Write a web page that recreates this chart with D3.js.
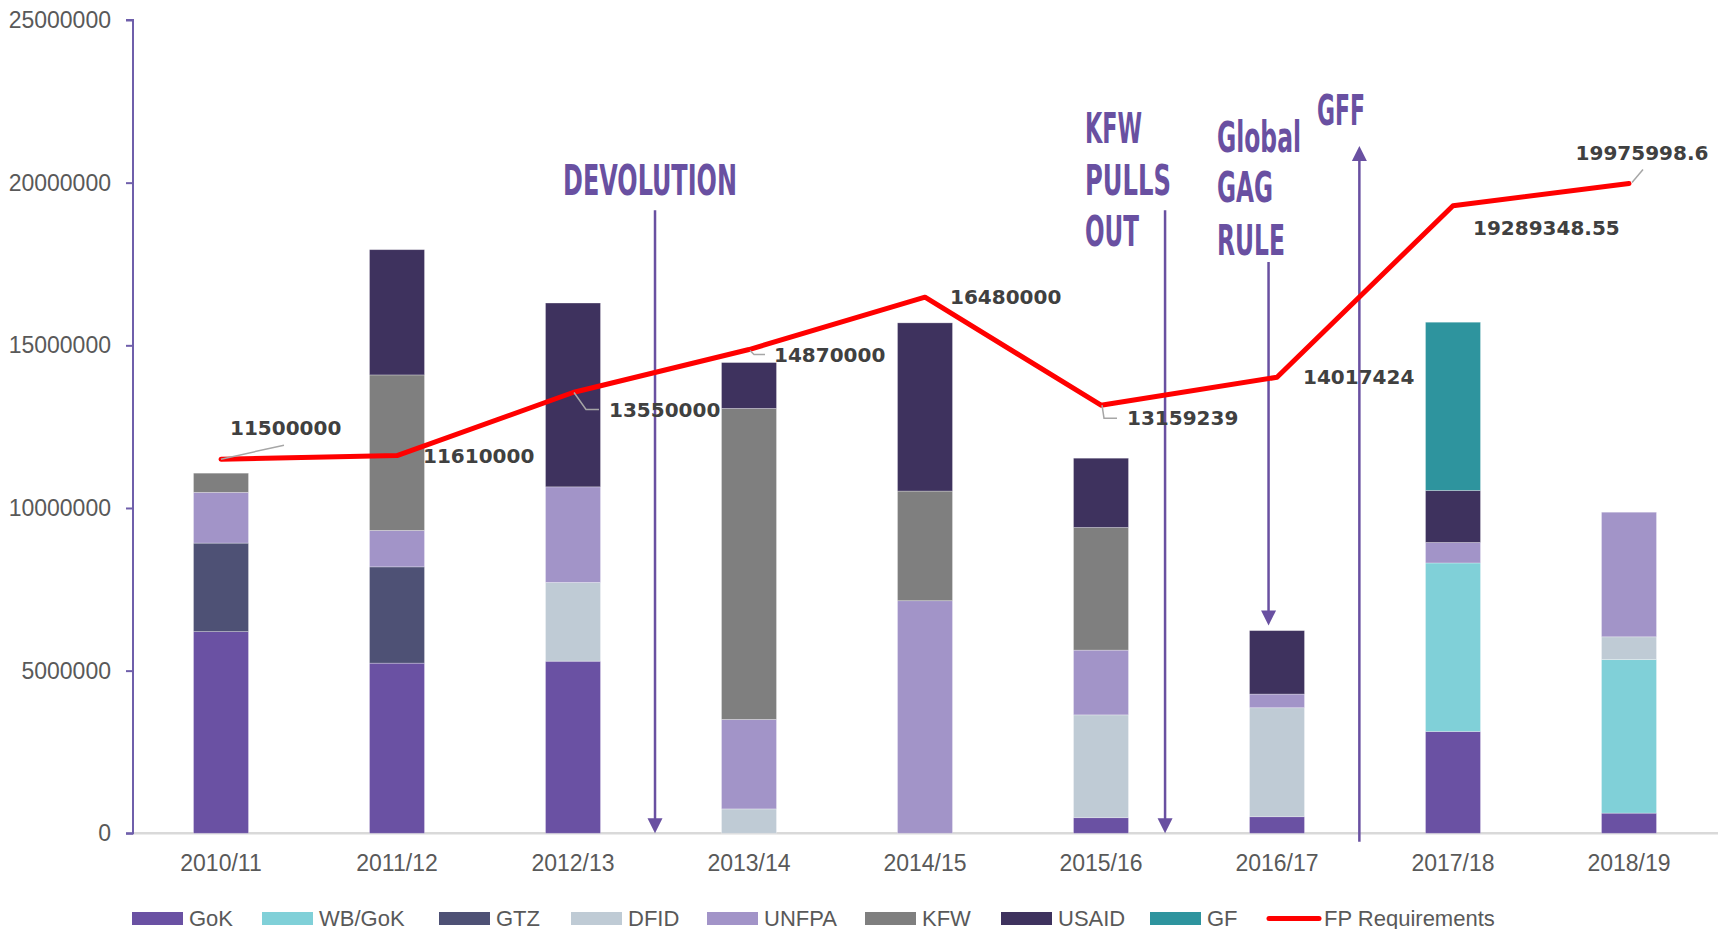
<!DOCTYPE html>
<html lang="en">
<head>
  <meta charset="UTF-8">
  <title>FP funding by source</title>
  <script src="https://cdn.jsdelivr.net/npm/d3@7"></script>
  <style>
    body { margin: 0; background: #fff; }
    svg { display: block; }
  </style>
</head>
<body>
<svg></svg>
<script>
  // data
  const years = ['2010/11', '2011/12', '2012/13', '2013/14', '2014/15', '2015/16', '2016/17', '2017/18', '2018/19']
  const gok   = [6200000, 5230000, 5290000, 0, 0, 480000, 510000, 3130000, 620000]
  const wbGok = [0, 0, 0, 0, 0, 0, 0, 5180000, 4720000]
  const gtz   = [2720000, 2960000, 0, 0, 0, 0, 0, 0, 0]
  const dfid  = [0, 0, 2420000, 750000, 0, 3160000, 3350000, 0, 700000]
  const unfpa = [1560000, 1120000, 2940000, 2750000, 7150000, 1990000, 420000, 630000, 3830000]
  const kfw   = [590000, 4780000, 0, 9560000, 3370000, 3770000, 0, 0, 0]
  const usaid = [0, 3850000, 5650000, 1410000, 5170000, 2130000, 1950000, 1600000, 0]
  const gf    = [0, 0, 0, 0, 0, 0, 0, 5170000, 0]
  const fpRequirements = [11500000, 11610000, 13550000, 14870000, 16480000, 13159239, 14017424, 19289348.55, 19975998.6]
  const yTicks = [0, 5000000, 10000000, 15000000, 20000000, 25000000]

  const seriesNames = ['GoK', 'WB/GoK', 'GTZ', 'DFID', 'UNFPA', 'KFW', 'USAID', 'GF']
  const seriesValues = [gok, wbGok, gtz, dfid, unfpa, kfw, usaid, gf]
  const colors = ['#6a51a3', '#80d0d8', '#4e5175', '#bfcbd5', '#a294c8', '#7f7f7f', '#3e325e', '#2e949e']

  const width = 1727, height = 929
  const mLeft = 133, mRight = 1717, mTop = 20, mBottom = 833.3

  const svg = d3.select('svg')
      .attr('width', width)
      .attr('height', height)
      .attr('viewBox', [0, 0, width, height])

  const table = years.map((yr, i) => {
    const row = {year: yr}
    seriesNames.forEach((s, k) => row[s] = seriesValues[k][i])
    return row
  })

  const x = d3.scaleBand()
      .domain(years)
      .range([mLeft, mRight])
      .paddingInner(0.6875)
      .paddingOuter(0.34375)
  const cx = d => x(d) + x.bandwidth() / 2

  const y = d3.scaleLinear()
      .domain([0, 25000000])
      .range([mBottom, mTop])

  const color = d3.scaleOrdinal().domain(seriesNames).range(colors)

  // x baseline
  svg.append('line')
      .attr('x1', mLeft).attr('x2', mRight + 1)
      .attr('y1', mBottom).attr('y2', mBottom)
      .attr('stroke', '#d9d9d9')
      .attr('stroke-width', 2.5)

  // stacked bars
  const stacked = d3.stack().keys(seriesNames)(table)
  svg.append('g')
      .selectAll('g')
      .data(stacked)
      .join('g')
      .attr('fill', d => color(d.key))
      .selectAll('rect')
      .data(d => d.filter(p => p[1] - p[0] > 0))
      .join('rect')
      .attr('x', d => x(d.data.year))
      .attr('width', x.bandwidth())
      .attr('y', d => y(d[1]))
      .attr('height', d => y(d[0]) - y(d[1]))
      .attr('stroke', '#ffffff')
      .attr('stroke-opacity', 0.35)
      .attr('stroke-width', 0.8)

  // y axis
  const yAxis = svg.append('g')
      .attr('transform', `translate(${mLeft},0)`)
      .call(d3.axisLeft(y).tickValues(yTicks).tickFormat(d3.format('d')).tickSize(7).tickPadding(15))
  yAxis.select('.domain').attr('stroke', '#6f5fab').attr('stroke-width', 2).attr('d', `M-7,${mTop}H0V${mBottom}H-7`)
  yAxis.selectAll('.tick line').attr('stroke', '#6f5fab').attr('stroke-width', 2)
  yAxis.selectAll('.tick text')
      .attr('fill', '#595959')
      .style('font', '23px "Liberation Sans", Arial, sans-serif')

  // x labels
  svg.append('g')
      .selectAll('text')
      .data(years)
      .join('text')
      .attr('x', d => cx(d))
      .attr('y', 871)
      .attr('text-anchor', 'middle')
      .attr('fill', '#595959')
      .style('font', '23px "Liberation Sans", Arial, sans-serif')
      .text(d => d)

  // annotations: arrows
  const purple = '#6950a1'
  const step = x.step()
  const arrows = [
    {year: '2012/13', off: 0.466, from: 19150000, to: 0},
    {year: '2015/16', off: 0.364, from: 19150000, to: 0},
    {year: '2016/17', off: -0.048, from: 17560000, to: 6390000},
    {year: '2016/17', off: 0.468, from: -260000, to: 21130000}
  ]
  const ag = svg.append('g')
  arrows.forEach(a => {
    const ax = cx(a.year) + a.off * step
    const y1 = y(a.from), y2 = y(a.to)
    const dir = y2 > y1 ? 1 : -1
    ag.append('line')
        .attr('x1', ax).attr('x2', ax)
        .attr('y1', y1).attr('y2', y2 - dir * 10)
        .attr('stroke', purple)
        .attr('stroke-width', 2.5)
    ag.append('path')
        .attr('d', `M${ax},${y2}L${ax - 7.5},${y2 - dir * 15}L${ax + 7.5},${y2 - dir * 15}Z`)
        .attr('fill', purple)
  })

  // annotations: text, squeezed horizontally to the width seen in the picture
  const notes = [
    {t: 'DEVOLUTION', x: 563, y: 195, w: 174},
    {t: 'KFW', x: 1085, y: 143, w: 57},
    {t: 'PULLS', x: 1085, y: 195, w: 86},
    {t: 'OUT', x: 1085, y: 246, w: 54},
    {t: 'Global', x: 1217, y: 152, w: 84},
    {t: 'GAG', x: 1217, y: 202, w: 56},
    {t: 'RULE', x: 1217, y: 255, w: 68},
    {t: 'GFF', x: 1317, y: 125, w: 48}
  ]
  svg.append('g')
      .selectAll('text')
      .data(notes)
      .join('text')
      .attr('x', 0)
      .attr('y', 0)
      .attr('fill', purple)
      .style('font', 'bold 43px "Liberation Sans Narrow", "DejaVu Sans Condensed", sans-serif')
      .text(d => d.t)
      .attr('transform', function(d) {
        const sx = d.w / this.getComputedTextLength()
        return `translate(${d.x},${d.y}) scale(${sx},1)`
      })

  // FP requirements line
  const line = d3.line()
      .x((d, i) => cx(years[i]))
      .y(d => y(d))
  svg.append('path')
      .datum(fpRequirements)
      .attr('fill', 'none')
      .attr('stroke', '#ff0000')
      .attr('stroke-width', 5)
      .attr('stroke-linejoin', 'round')
      .attr('stroke-linecap', 'round')
      .attr('d', line)

  // data labels (offsets from the point, leader line points)
  const labelPos = [
    {dx: 9, dy: -31, leader: [[0, 0], [63, -14]]},
    {dx: 26, dy: 0},
    {dx: 36, dy: 17, leader: [[1, 0], [13, 17], [26, 17]]},
    {dx: 25, dy: 5, leader: [[1, 1], [5, 5], [16, 5]]},
    {dx: 25, dy: 0},
    {dx: 26, dy: 13, leader: [[1, 0], [3, 13], [16, 13]]},
    {dx: 26, dy: 0},
    {dx: 20, dy: 22},
    {dx: 13, dy: -31, anchor: 'middle', leader: [[3, -1], [14, -14]]}
  ]
  const lg = svg.append('g')
  fpRequirements.forEach((v, i) => {
    const px = cx(years[i]), py = y(v)
    const p = labelPos[i]
    if (p.leader) {
      lg.append('path')
          .attr('d', d3.line()(p.leader.map(q => [px + q[0], py + q[1]])))
          .attr('fill', 'none')
          .attr('stroke', '#a6a6a6')
          .attr('stroke-width', 1.5)
    }
    lg.append('text')
        .attr('x', px + p.dx)
        .attr('y', py + p.dy)
        .attr('dy', '0.36em')
        .attr('text-anchor', p.anchor || 'start')
        .attr('fill', '#404040')
        .style('font', 'bold 20px "DejaVu Sans", Verdana, sans-serif')
        .text(String(v))
  })

  // legend
  const legendX = [132, 262, 439, 571, 707, 865, 1001, 1150, 1267]
  const items = seriesNames.concat(['FP Requirements'])
  const legend = svg.append('g')
      .selectAll('g')
      .data(items)
      .join('g')
      .attr('transform', (d, i) => `translate(${legendX[i]},0)`)
  legend.filter((d, i) => i < seriesNames.length)
      .append('rect')
      .attr('x', 0).attr('y', 912)
      .attr('width', 51).attr('height', 13)
      .attr('fill', d => color(d))
  legend.filter((d, i) => i === seriesNames.length)
      .append('line')
      .attr('x1', 2).attr('x2', 52)
      .attr('y1', 918.5).attr('y2', 918.5)
      .attr('stroke', '#ff0000')
      .attr('stroke-width', 5)
      .attr('stroke-linecap', 'round')
  legend.append('text')
      .attr('x', 57).attr('y', 925.5)
      .attr('fill', '#595959')
      .style('font', '22px "Liberation Sans", Arial, sans-serif')
      .text(d => d)
</script>
</body>
</html>
